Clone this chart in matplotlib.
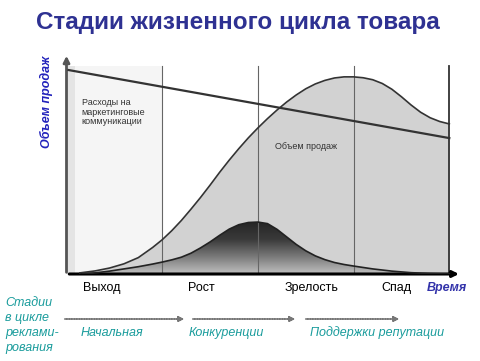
import numpy as np
import matplotlib.pyplot as plt
from matplotlib.colors import LinearSegmentedColormap

plt.rcParams['font.family'] = ['Liberation Sans', 'DejaVu Sans']

# time in stage units: stage borders at 1, 2, 3, 4
t_sales = [0.14, 0.3, 0.45, 0.6, 0.75, 0.9, 1.0, 1.1, 1.2, 1.3, 1.4, 1.5,
           1.6, 1.7, 1.8, 1.9, 2.0, 2.1, 2.2, 2.3, 2.4, 2.5, 2.6, 2.7, 2.8,
           2.9, 3.0, 3.1, 3.2, 3.3, 3.4, 3.5, 3.6, 3.7, 3.8, 3.9, 4.0]
sales = [0.5, 1.4, 2.7, 4.6, 7.4, 12.0, 15.5, 19.6, 24.2, 29.3, 34.6, 40.2,
         46.0, 51.5, 56.7, 61.6, 66.1, 70.3, 74.2, 77.8, 81.0, 83.8, 86.0,
         87.6, 88.7, 89.2, 89.2, 88.8, 87.9, 86.2, 83.6, 80.2, 76.5, 73.2,
         70.7, 69.0, 67.9]

# lower (dark) hump
t_adv = [0.17, 0.3, 0.45, 0.6, 0.75, 0.9, 1.0, 1.1, 1.2, 1.3, 1.4, 1.5,
         1.6, 1.7, 1.8, 1.9, 2.0, 2.1, 2.2, 2.3, 2.4, 2.5, 2.6, 2.7, 2.8,
         2.9, 3.0, 3.2, 3.4, 3.6, 3.8, 4.0]
adv = [0, 0.5, 1.3, 2.3, 3.3, 4.5, 5.4, 6.4, 7.6, 9.4, 11.8, 14.5,
       17.5, 20.3, 22.3, 23.3, 23.5, 22.8, 20.2, 16.8, 13.4, 10.5, 8.2,
       6.5, 5.2, 4.3, 3.6, 2.3, 1.3, 0.6, 0.2, 0]

# marketing communication costs
t_mkt = [0.02, 4.0]
mkt = [92.3, 61.5]

stage_borders = [1, 2, 3]
stages = ['Выход', 'Рост', 'Зрелость', 'Спад']
ad_stages = ['Начальная', 'Конкуренции', 'Поддержки репутации']

W, H = 480, 361
fig = plt.figure(figsize=(4.8, 3.61), dpi=100)
ax = fig.add_axes([66.5 / W, 87 / H, 4.3 * 95.7 / W, 221 / H])
ax.set_xlim(0, 4.3)
ax.set_ylim(0, 100)
ax.axis('off')

# background shading
ax.fill_between([0, 1], 0, 94, color='#f5f5f5', lw=0, zorder=0)
ax.fill_between([0, 0.09], 0, 94, color='#e4e4e4', lw=0, zorder=0)
ax.fill_between(t_sales, 0, sales, color='#d2d2d2', lw=0, zorder=1)

# gradient under the lower hump
poly = ax.fill_between(t_adv, 0, adv, color='none', lw=0, zorder=2)
cmap = LinearSegmentedColormap.from_list('g', ['#c0c0c0', '#7a7a7a', '#3a3a3a', '#262626'])
grad = np.linspace(0, 1, 200)[:, None]
im = ax.imshow(grad, extent=[0, 4, 0, max(adv)], origin='lower', cmap=cmap,
               aspect='auto', zorder=2)
im.set_clip_path(poly.get_paths()[0], transform=ax.transData)

for b in stage_borders:
    ax.plot([b, b], [0, 94], color='#666666', lw=0.8, zorder=3)
ax.plot([4, 4], [0, 94], color='#333333', lw=1.3, zorder=3)

ax.plot(t_sales, sales, color='#333333', lw=1.2, zorder=4)
ax.plot(t_adv, adv, color='#222222', lw=1.2, zorder=4)
ax.plot(t_mkt, mkt, color='#333333', lw=1.6, zorder=4)

# axes with arrows
ax.annotate('', xy=(0, 100), xytext=(0, -0.5),
            arrowprops=dict(arrowstyle='-|>', color='#555555', lw=2,
                            mutation_scale=9), annotation_clip=False)
ax.annotate('', xy=(4.13, 0), xytext=(0, 0),
            arrowprops=dict(arrowstyle='-|>', color='black', lw=2.2,
                            mutation_scale=9), annotation_clip=False)

ax.text(0.16, 73.3, 'Расходы на\nмаркетинговые\nкоммуникации', fontsize=6.5,
        color='#333333', va='center', linespacing=1.1, zorder=5)
ax.text(2.18, 57.5, 'Объем продаж', fontsize=6.5, color='#333333',
        va='center', zorder=5)

def fx(px):
    return px / W

def fy(py):
    return 1 - py / H

fig.text(fx(238), fy(23), 'Стадии жизненного цикла товара', fontsize=17.5,
         fontweight='bold', color='#2e3192', ha='center', va='center')
fig.text(fx(46), fy(102), 'Объем продаж', fontsize=9, fontweight='bold',
         fontstyle='italic', color='#2222bb', rotation=90,
         ha='center', va='center')

for name, px in zip(stages, [102, 201, 312, 396]):
    fig.text(fx(px), fy(288), name, fontsize=9, ha='center', va='center')
fig.text(fx(447), fy(288), 'Время', fontsize=9, fontweight='bold',
         fontstyle='italic', color='#3333aa', ha='center', va='center')

teal = '#1a9c9c'
for i, line in enumerate(['Стадии', 'в цикле', 'реклами-', 'рования']):
    fig.text(fx(5), fy(303 + 15 * i), line, fontsize=9, fontstyle='italic',
             color=teal, ha='left', va='center')

for x0, x1 in [(62, 187), (190, 298), (303, 402)]:
    ax.annotate('', xy=(x1, H - 319), xytext=(x0, H - 319),
                xycoords='figure pixels', textcoords='figure pixels',
                arrowprops=dict(arrowstyle='-|>', color='#777777', lw=1.2,
                                ls=(0, (1, 0.5)), mutation_scale=8),
                annotation_clip=False)

for name, px in zip(ad_stages, [112, 226, 377]):
    fig.text(fx(px), fy(333), name, fontsize=9, fontstyle='italic',
             color=teal, ha='center', va='center')

fig.savefig('out.png', dpi=100)
